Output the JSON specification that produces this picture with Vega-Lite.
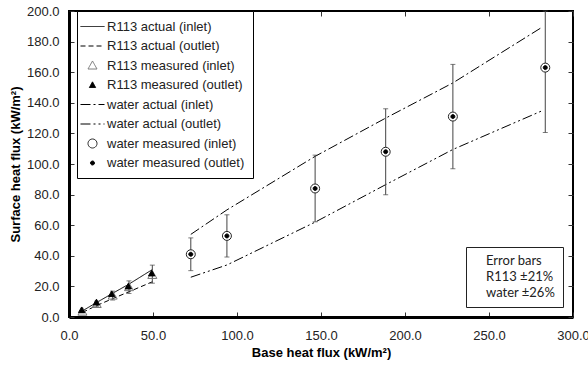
{
  "$schema": "https://vega.github.io/schema/vega-lite/v6.json",
  "width": 504,
  "height": 306,
  "autosize": "none",
  "padding": {"left": 69, "top": 11, "right": 15, "bottom": 53},
  "background": "white",
  "config": {
    "view": {"stroke": "black", "strokeWidth": 2},
    "font": "Liberation Sans",
    "axis": {
      "grid": false,
      "labelFont": "Liberation Sans",
      "labelFontSize": 13,
      "labelColor": "#222",
      "labelFlush": false,
      "titleFont": "Liberation Sans",
      "titleFontSize": 13,
      "titleFontWeight": "bold",
      "titleColor": "black",
      "tickColor": "#333",
      "tickSize": -5,
      "tickWidth": 1,
      "domainColor": "black",
      "domainWidth": 3
    }
  },
  "datasets": {
    "lines": [
      {"series": "R113 actual (inlet)", "x": 8, "y": 4},
      {"series": "R113 actual (inlet)", "x": 16.5, "y": 9.5},
      {"series": "R113 actual (inlet)", "x": 26, "y": 15.5},
      {"series": "R113 actual (inlet)", "x": 35.7, "y": 21.5},
      {"series": "R113 actual (inlet)", "x": 49.6, "y": 31},
      {"series": "R113 actual (outlet)", "x": 8, "y": 3},
      {"series": "R113 actual (outlet)", "x": 16.5, "y": 7.5},
      {"series": "R113 actual (outlet)", "x": 26, "y": 12},
      {"series": "R113 actual (outlet)", "x": 35.7, "y": 16.5},
      {"series": "R113 actual (outlet)", "x": 49.6, "y": 23},
      {"series": "water actual (inlet)", "x": 72.5, "y": 54},
      {"series": "water actual (inlet)", "x": 94, "y": 70},
      {"series": "water actual (inlet)", "x": 146.5, "y": 105},
      {"series": "water actual (inlet)", "x": 188.5, "y": 130},
      {"series": "water actual (inlet)", "x": 228.5, "y": 153},
      {"series": "water actual (inlet)", "x": 281, "y": 189},
      {"series": "water actual (outlet)", "x": 72.5, "y": 26},
      {"series": "water actual (outlet)", "x": 94, "y": 34},
      {"series": "water actual (outlet)", "x": 146.5, "y": 62},
      {"series": "water actual (outlet)", "x": 188.5, "y": 86.5},
      {"series": "water actual (outlet)", "x": 228.5, "y": 109.5},
      {"series": "water actual (outlet)", "x": 281, "y": 134.5}
    ],
    "points": [
      {"series": "R113 measured (inlet)", "x": 8, "y": 3.5},
      {"series": "R113 measured (inlet)", "x": 16.5, "y": 8.5},
      {"series": "R113 measured (inlet)", "x": 26, "y": 14},
      {"series": "R113 measured (inlet)", "x": 35.7, "y": 19.5},
      {"series": "R113 measured (inlet)", "x": 49.6, "y": 27.5},
      {"series": "R113 measured (outlet)", "x": 7.5, "y": 4.5},
      {"series": "R113 measured (outlet)", "x": 16.3, "y": 9.5},
      {"series": "R113 measured (outlet)", "x": 25.4, "y": 15},
      {"series": "R113 measured (outlet)", "x": 35.3, "y": 20},
      {"series": "R113 measured (outlet)", "x": 49.2, "y": 28.5},
      {"series": "water measured (inlet)", "x": 72.5, "y": 41},
      {"series": "water measured (inlet)", "x": 94, "y": 53},
      {"series": "water measured (inlet)", "x": 146.5, "y": 84},
      {"series": "water measured (inlet)", "x": 188.5, "y": 108},
      {"series": "water measured (inlet)", "x": 228.5, "y": 131},
      {"series": "water measured (inlet)", "x": 283.5, "y": 163},
      {"series": "water measured (outlet)", "x": 72.5, "y": 41},
      {"series": "water measured (outlet)", "x": 94, "y": 53},
      {"series": "water measured (outlet)", "x": 146.5, "y": 84},
      {"series": "water measured (outlet)", "x": 188.5, "y": 108},
      {"series": "water measured (outlet)", "x": 228.5, "y": 131},
      {"series": "water measured (outlet)", "x": 283.5, "y": 163}
    ],
    "errors": [
      {"x": 8, "lo": 2.8, "hi": 4.2},
      {"x": 16.5, "lo": 6.7, "hi": 10.3},
      {"x": 26, "lo": 11.1, "hi": 16.9},
      {"x": 35.7, "lo": 15.4, "hi": 23.6},
      {"x": 49.6, "lo": 22.1, "hi": 33.9},
      {"x": 72.5, "lo": 30.3, "hi": 51.7},
      {"x": 94, "lo": 39.2, "hi": 66.8},
      {"x": 146.5, "lo": 62.2, "hi": 105.8},
      {"x": 188.5, "lo": 79.9, "hi": 136.1},
      {"x": 228.5, "lo": 96.9, "hi": 165.1},
      {"x": 283.5, "lo": 120.6, "hi": 200}
    ],
    "notes": [
      {"note": "Error bars"},
      {"note": "R113 ±21%"},
      {"note": "water ±26%"}
    ]
  },
  "layer": [
    {
      "data": {"name": "lines"},
      "mark": {"type": "line", "strokeWidth": 1},
      "encoding": {
        "x": {"field": "x", "type": "quantitative", "scale": {"domain": [0, 300], "nice": false},
          "axis": {"orient": "bottom", "values": [0, 50, 100, 150, 200, 250, 300], "format": ".1f", "title": "Base heat flux (kW/m²)", "labelPadding": 17, "titlePadding": 4}},
        "y": {"field": "y", "type": "quantitative", "scale": {"domain": [0, 200], "nice": false},
          "axis": {"orient": "left", "values": [0, 20, 40, 60, 80, 100, 120, 140, 160, 180, 200], "format": ".1f", "title": "Surface heat flux (kW/m²)", "labelPadding": 15, "titlePadding": 4}},
        "stroke": {"field": "series", "type": "nominal",
          "scale": {"domain": ["R113 actual (inlet)", "R113 actual (outlet)", "R113 measured (inlet)", "R113 measured (outlet)", "water actual (inlet)", "water actual (outlet)", "water measured (inlet)", "water measured (outlet)"],
            "range": ["black", "black", "#777777", "black", "black", "black", "#222222", "black"]},
          "legend": {"title": null, "orient": "none", "legendX": 8, "legendY": 0, "strokeColor": "black", "fillColor": "white", "padding": 8, "labelFont": "Liberation Sans", "labelFontSize": 13, "labelColor": "#222", "symbolSize": 196, "symbolStrokeWidth": 1, "labelOffset": 7, "rowPadding": 4.5}},
        "strokeDash": {"field": "series", "type": "nominal",
          "scale": {"domain": ["R113 actual (inlet)", "R113 actual (outlet)", "R113 measured (inlet)", "R113 measured (outlet)", "water actual (inlet)", "water actual (outlet)", "water measured (inlet)", "water measured (outlet)"],
            "range": [[1, 0], [5, 3], [1, 0], [1, 0], [10, 3, 2, 3], [10, 3, 2, 3, 2, 3], [1, 0], [1, 0]]},
          "legend": {"title": null, "orient": "none", "legendX": 8, "legendY": 0, "strokeColor": "black", "fillColor": "white", "padding": 8, "labelFont": "Liberation Sans", "labelFontSize": 13, "labelColor": "#222", "symbolSize": 196, "symbolStrokeWidth": 1, "labelOffset": 7, "rowPadding": 4.5}}
      }
    },
    {
      "data": {"name": "errors"},
      "mark": {"type": "errorbar", "ticks": true, "size": 5, "thickness": 1, "color": "#444444"},
      "encoding": {
        "x": {"field": "x", "type": "quantitative", "axis": null},
        "y": {"field": "lo", "type": "quantitative", "axis": null},
        "y2": {"field": "hi"}
      }
    },
    {
      "data": {"name": "points"},
      "mark": {"type": "point", "size": 196, "strokeWidth": 1, "opacity": 1},
      "encoding": {
        "x": {"field": "x", "type": "quantitative",
          "axis": {"orient": "top", "values": [0, 50, 100, 150, 200, 250, 300], "labels": false, "domain": false, "title": null}},
        "y": {"field": "y", "type": "quantitative",
          "axis": {"orient": "right", "values": [0, 20, 40, 60, 80, 100, 120, 140, 160, 180, 200], "labels": false, "domain": false, "title": null}},
        "stroke": {"field": "series", "type": "nominal",
          "scale": {"domain": ["R113 actual (inlet)", "R113 actual (outlet)", "R113 measured (inlet)", "R113 measured (outlet)", "water actual (inlet)", "water actual (outlet)", "water measured (inlet)", "water measured (outlet)"],
            "range": ["black", "black", "#777777", "black", "black", "black", "#222222", "black"]},
          "legend": {"title": null, "orient": "none", "legendX": 8, "legendY": 0, "strokeColor": "black", "fillColor": "white", "padding": 8, "labelFont": "Liberation Sans", "labelFontSize": 13, "labelColor": "#222", "symbolSize": 196, "symbolStrokeWidth": 1, "labelOffset": 7, "rowPadding": 4.5}},
        "fill": {"field": "series", "type": "nominal",
          "scale": {"domain": ["R113 actual (inlet)", "R113 actual (outlet)", "R113 measured (inlet)", "R113 measured (outlet)", "water actual (inlet)", "water actual (outlet)", "water measured (inlet)", "water measured (outlet)"],
            "range": ["transparent", "transparent", "transparent", "black", "transparent", "transparent", "white", "black"]},
          "legend": {"title": null, "orient": "none", "legendX": 8, "legendY": 0, "strokeColor": "black", "fillColor": "white", "padding": 8, "labelFont": "Liberation Sans", "labelFontSize": 13, "labelColor": "#222", "symbolSize": 196, "symbolStrokeWidth": 1, "labelOffset": 7, "rowPadding": 4.5}},
        "shape": {"field": "series", "type": "nominal",
          "scale": {"domain": ["R113 actual (inlet)", "R113 actual (outlet)", "R113 measured (inlet)", "R113 measured (outlet)", "water actual (inlet)", "water actual (outlet)", "water measured (inlet)", "water measured (outlet)"],
            "range": ["M-1.714,0H1.714", "M-1.714,0H1.714", "M0,-0.643L0.643,0.5L-0.643,0.5Z", "M0,-0.45L0.45,0.36L-0.45,0.36Z", "M-1.714,0H1.714", "M-1.714,0H1.714", "M0.643,0A0.643,0.643,0,1,1,-0.643,0A0.643,0.643,0,1,1,0.643,0Z", "M0.286,0A0.286,0.286,0,1,1,-0.286,0A0.286,0.286,0,1,1,0.286,0Z"]},
          "legend": {"title": null, "orient": "none", "legendX": 8, "legendY": 0, "strokeColor": "black", "fillColor": "white", "padding": 8, "labelFont": "Liberation Sans", "labelFontSize": 13, "labelColor": "#222", "symbolSize": 196, "symbolStrokeWidth": 1, "labelOffset": 7, "rowPadding": 4.5}}
      }
    },
    {
      "data": {"name": "notes"},
      "mark": {"type": "point", "opacity": 0},
      "encoding": {
        "color": {"field": "note", "type": "nominal",
          "scale": {"domain": ["Error bars", "R113 ±21%", "water ±26%"], "range": ["transparent", "transparent", "transparent"]},
          "legend": {"title": null, "orient": "bottom-right", "offset": 10, "strokeColor": "#222", "fillColor": "white", "padding": 7, "labelFont": "Lato", "labelFontSize": 13, "labelColor": "#222", "symbolSize": 0, "symbolStrokeWidth": 0, "symbolOpacity": 0, "labelOffset": 0, "rowPadding": 2}}
      }
    }
  ],
  "resolve": {"axis": {"x": "independent", "y": "independent"}}
}
